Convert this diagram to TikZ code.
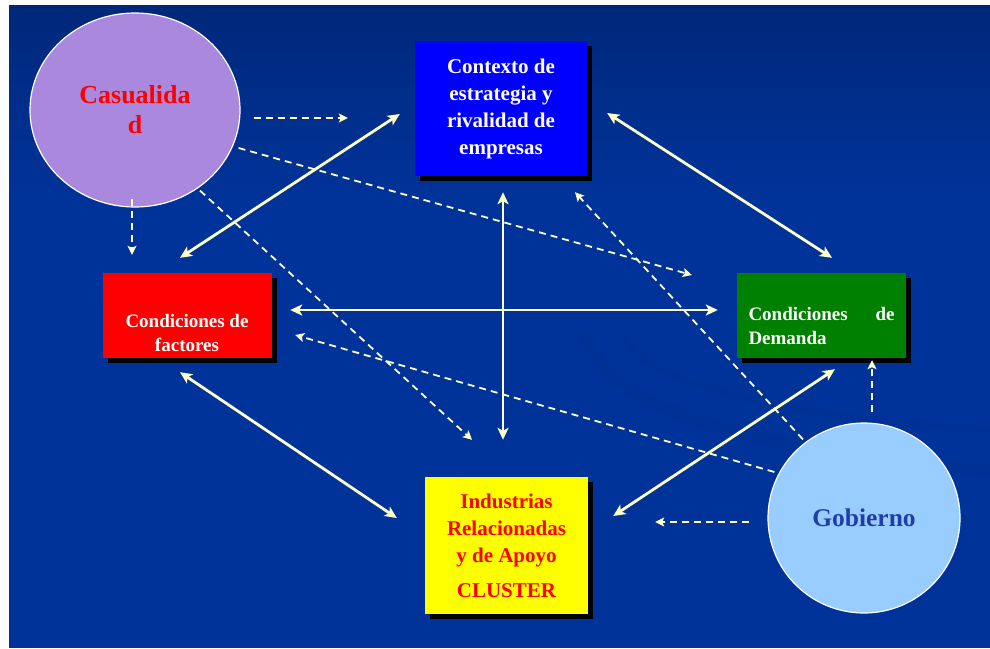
\documentclass[tikz,border=0pt]{standalone}
\usepackage{fontspec}
\setmainfont{Liberation Serif}
\usetikzlibrary{arrows.meta,shapes.geometric,shadows}

\definecolor{bgtop}{HTML}{00287A}
\definecolor{bg}{HTML}{003399}
\definecolor{swoosh}{HTML}{002A85}
\definecolor{cream}{HTML}{FFFFCC}
\definecolor{lav}{HTML}{AA88DD}
\definecolor{sky}{HTML}{99CCFF}
\definecolor{govtext}{HTML}{1F3FA6}
\definecolor{ctxblue}{HTML}{0000FF}
\definecolor{facred}{HTML}{FF0000}
\definecolor{demgreen}{HTML}{008000}
\definecolor{indyellow}{HTML}{FFFF00}

\begin{document}
\begin{tikzpicture}[x=1pt,y=-1pt,
  box/.style={rectangle, draw=none, inner sep=0pt,
    drop shadow={shadow xshift=5pt, shadow yshift=-5pt, fill=black, opacity=1}},
  factor/.style={ellipse, draw=white, line width=1.2pt, inner sep=0pt},
  both/.style={draw=cream, line width=2.8pt,
    {Stealth[length=12pt,width=11pt,inset=3pt]}-{Stealth[length=12pt,width=11pt,inset=3pt]}},
  influence/.style={draw=cream, line width=1.8pt, dash pattern=on 7pt off 5pt,
    -{Stealth[length=9pt,width=9pt,inset=2pt]}},
  bigtext/.style={font=\bfseries\fontsize{21}{27}\selectfont, align=center},
  smalltext/.style={font=\bfseries\fontsize{19}{24}\selectfont, text=white, inner sep=0pt}
]
\useasboundingbox (0,0) rectangle (990,648);

% slide background
\fill[bg] (9,5) rectangle (990,648);
\shade[top color=bgtop, bottom color=bg] (9,5) rectangle (990,200);
\begin{scope}
  \clip (9,5) rectangle (990,648);
  \draw[swoosh, line width=12pt, opacity=0.22] (585,330) .. controls (600,420) and (800,455) .. (990,470);
  \draw[swoosh, line width=7pt, opacity=0.18] (620,330) .. controls (640,390) and (820,420) .. (990,430);
\end{scope}

% the four determinants
\node[box, fill=ctxblue, minimum width=172pt, minimum height=135pt, text=white, bigtext]
  (ctx) at (501,108.5) {Contexto de\\estrategia y\\rivalidad de\\empresas};
\node[box, fill=facred, minimum width=169pt, minimum height=85pt] (fac) at (187.5,315.5) {};
\node[smalltext, align=center] (factxt) at (187,333) {Condiciones de\\factores};
\node[box, fill=demgreen, minimum width=169pt, minimum height=85pt] (dem) at (821.5,315.5) {};
\node[smalltext, align=left] (demtxt) at (821.5,326)
  {\hbox to 146pt{Condiciones\hfill de}\\Demanda};
\node[box, fill=indyellow, minimum width=163pt, minimum height=137pt, text=facred, bigtext]
  (ind) at (506.5,545.5) {Industrias\\Relacionadas\\y de Apoyo\\[8pt]CLUSTER};

% the two outside factors
\node[factor, fill=lav, minimum width=210pt, minimum height=194pt, text=facred,
  font=\bfseries\fontsize{26}{30}\selectfont, align=center]
  (cas) at (135,110) {Casualida\\d};
\node[factor, fill=sky, minimum width=192pt, minimum height=190pt, text=govtext,
  font=\bfseries\fontsize{25.5}{28}\selectfont]
  (gob) at (864,518) {Gobierno};

% mutual links of the diamond
\draw[both] ([shift={(-7.5,-15)}]fac.north) -- ([shift={(-15,5.5)}]ctx.west);
\draw[both] ([shift={(20,4.5)}]ctx.east) -- ([shift={(10.5,-15)}]dem.north);
\draw[both] ([shift={(18,-5.5)}]fac.east) -- ([shift={(-19,-5.5)}]dem.west);
\draw[both] ([shift={(2,16)}]ctx.south) -- ([shift={(-3.5,-37)}]ind.north);
\draw[both] ([shift={(-7.5,14)}]fac.south) -- ([shift={(-28,-27.5)}]ind.west);
\draw[both] ([shift={(25,-29.5)}]ind.east) -- ([shift={(13.5,11)}]dem.south);

% influence of chance
\draw[influence] ([shift={(13,8)}]cas.east) -- ([shift={(-67,9.5)}]ctx.west);
\draw[influence] ([shift={(-2,38)}]cas.east) -- ([shift={(-45,-40.5)}]dem.west);
\draw[influence] ([shift={(-3,-9)}]cas.south) -- ([shift={(-55.5,-18)}]fac.north);
\draw[influence] ([shift={(65,-17)}]cas.south) -- ([shift={(-34.5,-37)}]ind.north);

% influence of government
\draw[influence] ([shift={(-61,17)}]gob.north) -- ([shift={(74,16)}]ctx.south);
\draw[influence] ([shift={(7,-46)}]gob.west) -- ([shift={(23,19.5)}]fac.east);
\draw[influence] ([shift={(-18,4)}]gob.west) -- ([shift={(67,-23.5)}]ind.east);
\draw[influence] ([shift={(8,-10)}]gob.north) -- ([shift={(50.5,2)}]dem.south);
\end{tikzpicture}
\end{document}
